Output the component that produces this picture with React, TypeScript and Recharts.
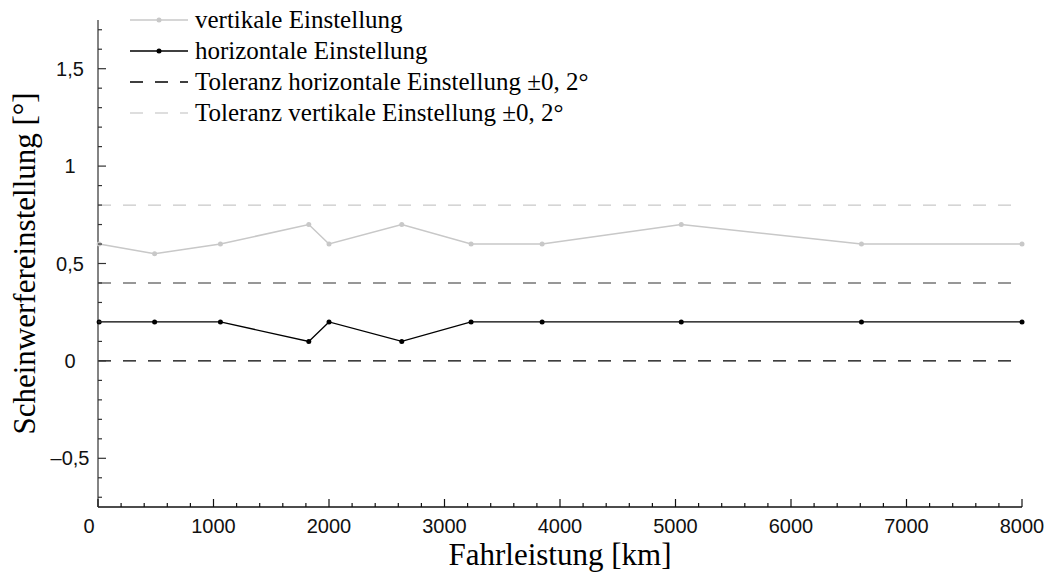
import React from 'react';
import { LineChart, Line, XAxis, YAxis, ReferenceLine, Legend, Label } from 'recharts';

// Fahrleistung [km] der Messpunkte
const km = [10, 490, 1060, 1825, 2000, 2630, 3230, 3845, 5050, 6610, 8000];
const vertikal = [0.6, 0.55, 0.6, 0.7, 0.6, 0.7, 0.6, 0.6, 0.7, 0.6, 0.6];
const horizontal = [0.2, 0.2, 0.2, 0.1, 0.2, 0.1, 0.2, 0.2, 0.2, 0.2, 0.2];
const tolHorizontal = [0, 0.4];
const tolVertikal = [0.4, 0.8];

const xTicks = [
  0, 200, 400, 600, 800, 1000, 1200, 1400, 1600, 1800, 2000, 2200, 2400, 2600, 2800, 3000, 3200, 3400, 3600, 3800,
  4000, 4200, 4400, 4600, 4800, 5000, 5200, 5400, 5600, 5800, 6000, 6200, 6400, 6600, 6800, 7000, 7200, 7400, 7600,
  7800, 8000,
];
const xLabels = [0, 1000, 2000, 3000, 4000, 5000, 6000, 7000, 8000];
const yTicks = [
  -0.7, -0.6, -0.5, -0.4, -0.3, -0.2, -0.1, 0, 0.1, 0.2, 0.3, 0.4, 0.5, 0.6, 0.7, 0.8, 0.9, 1, 1.1, 1.2, 1.3, 1.4,
  1.5, 1.6, 1.7,
];
const yLabels = [-0.5, 0, 0.5, 1, 1.5];

const data = km.map((k, i) => ({ km: k, vert: vertikal[i], hor: horizontal[i] }));

const sans = '"Liberation Sans", Arial, sans-serif';
const serif = '"Liberation Serif", "Times New Roman", serif';
const lightGray = '#c8c8c8';

const isIn = (arr: number[], v: number) => arr.some((a) => Math.abs(a - v) < 1e-6);

const fmtY = (v: number) => String(v).replace('.', ',').replace('-', '\u2013');

const XTick = ({ x, y, payload }: any) => {
  const major = isIn(xLabels, payload.value);
  return (
    <g>
      <line x1={x} x2={x} y1={y} y2={y - (major ? 8 : 4)} stroke="#111" strokeWidth={1.2} />
      {major && (
        <text x={payload.value === 0 ? x - 9 : x} y={y + 26} textAnchor="middle" fontFamily={sans} fontSize={20} fill="#111">
          {payload.value}
        </text>
      )}
    </g>
  );
};

const YTick = ({ x, y, payload }: any) => {
  const major = isIn(yLabels, payload.value);
  return (
    <g>
      <line x1={x} x2={x + (major ? 8 : 4)} y1={y} y2={y} stroke="#333" strokeWidth={1.2} />
      {major && (
        <text x={x - 28} y={y + 7} textAnchor="middle" fontFamily={sans} fontSize={20} fill="#111">
          {fmtY(payload.value)}
        </text>
      )}
    </g>
  );
};

const legendItems = [
  { name: 'vertikale Einstellung', color: lightGray, dash: undefined, dot: true },
  { name: 'horizontale Einstellung', color: '#000', dash: undefined, dot: true },
  { name: 'Toleranz horizontale Einstellung \u00b10, 2\u00b0', color: '#000', dash: '13 12', dot: false },
  { name: 'Toleranz vertikale Einstellung \u00b10, 2\u00b0', color: '#d4d4d4', dash: '13 12', dot: false },
];

const LegendBox = () => (
  <div style={{ fontFamily: serif, fontSize: 25, color: '#000' }}>
    {legendItems.map((it) => (
      <div key={it.name} style={{ display: 'flex', alignItems: 'center', height: 31, whiteSpace: 'nowrap' }}>
        <svg width={58} height={10} style={{ marginRight: 7 }}>
          <line x1={0} x2={58} y1={5} y2={5} stroke={it.color} strokeWidth={1.5} strokeDasharray={it.dash} />
          {it.dot && <circle cx={29} cy={5} r={2.5} fill={it.color} />}
        </svg>
        <span>{it.name}</span>
      </div>
    ))}
  </div>
);

const YLabelContent = ({ viewBox }: any) => {
  const cx = 24;
  const cy = viewBox.y + viewBox.height / 2;
  return (
    <text
      x={cx}
      y={cy}
      transform={`rotate(-90, ${cx}, ${cy})`}
      textAnchor="middle"
      dominantBaseline="central"
      fontFamily={serif}
      fontSize={31}
      fill="#000"
    >
      Scheinwerfereinstellung [°]
    </text>
  );
};

const XLabelContent = ({ viewBox }: any) => (
  <text
    x={viewBox.x + viewBox.width / 2}
    y={viewBox.y + 58}
    textAnchor="middle"
    fontFamily={serif}
    fontSize={31}
    fill="#000"
  >
    Fahrleistung [km]
  </text>
);

export default function App() {
  return (
    <div style={{ position: 'absolute', left: 0, top: 0, width: 1048, height: 574, background: '#fff' }}>
      <LineChart width={1048} height={574} data={data} margin={{ top: 20, right: 26, bottom: 0, left: 0 }}>
        <XAxis
          dataKey="km"
          type="number"
          domain={[0, 8000]}
          ticks={xTicks}
          interval={0}
          tick={<XTick />}
          tickLine={false}
          tickSize={0}
          tickMargin={0}
          height={67}
          axisLine={{ stroke: '#111', strokeWidth: 1.5 }}
        >
          <Label content={<XLabelContent />} />
        </XAxis>
        <YAxis
          type="number"
          domain={[-0.75, 1.75]}
          ticks={yTicks}
          interval={0}
          tick={<YTick />}
          tickLine={false}
          tickSize={0}
          tickMargin={0}
          width={98}
          axisLine={{ stroke: '#5a5a5a', strokeWidth: 1.5 }}
          allowDataOverflow
        >
          <Label content={<YLabelContent />} />
        </YAxis>
        {tolHorizontal.map((v) => (
          <ReferenceLine key={'h' + v} y={v} stroke="#000" strokeWidth={1.3} strokeDasharray="13 12" />
        ))}
        {tolVertikal.map((v) => (
          <ReferenceLine
            key={'v' + v}
            y={v}
            stroke="#c2c2c2"
            strokeOpacity={0.9}
            strokeWidth={1.3}
            strokeDasharray="13 12"
          />
        ))}
        <Line
          dataKey="vert"
          stroke={lightGray}
          strokeWidth={1.5}
          dot={{ r: 2.5, fill: lightGray, stroke: 'none' }}
          isAnimationActive={false}
        />
        <Line
          dataKey="hor"
          stroke="#000"
          strokeWidth={1.3}
          dot={{ r: 2.5, fill: '#000', stroke: 'none' }}
          isAnimationActive={false}
        />
        <Legend
          content={<LegendBox />}
          layout="horizontal"
          verticalAlign="middle"
          align="center"
          wrapperStyle={{ top: 4, left: 130, width: 'auto' }}
        />
      </LineChart>
    </div>
  );
}
